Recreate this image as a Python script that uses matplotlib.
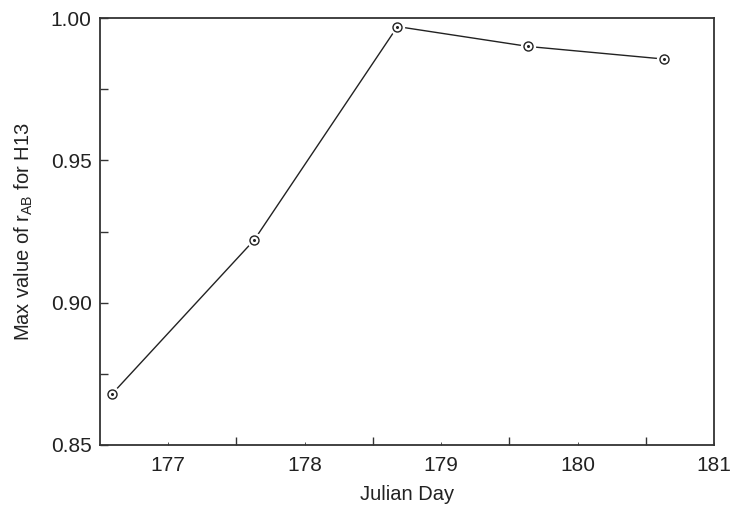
import matplotlib
matplotlib.use("Agg")
import matplotlib.pyplot as plt

days = [176.59, 177.63, 178.68, 179.64, 180.63]
max_r = [0.868, 0.922, 0.997, 0.990, 0.9856]

plt.rcParams["font.family"] = ["Liberation Sans", "DejaVu Sans"]
plt.rcParams["mathtext.default"] = "regular"

fig = plt.figure(figsize=(7.34, 5.12), dpi=100)
ax = fig.add_axes([0.1362, 0.1309, 0.8366, 0.8339])

ax.plot(days, max_r, color="#222222", lw=1.0, zorder=2)
ax.plot(days, max_r, ls="none", marker="o", ms=10, mfc="white", mec="white", zorder=3)
ax.plot(days, max_r, ls="none", marker="o", ms=6.5, mfc="white", mec="#222222", mew=1.0, zorder=4)
ax.plot(days, max_r, ls="none", marker="o", ms=1.2, mfc="#222222", mec="#222222", zorder=5)

ax.set_xlim(176.5, 181)
ax.set_ylim(0.85, 1.00)
ax.set_xticks([177, 178, 179, 180, 181])
ax.set_xticks([177.5, 178.5, 179.5, 180.5], minor=True)
ax.set_yticks([0.85, 0.90, 0.95, 1.00])
ax.set_yticks([0.875, 0.925, 0.975], minor=True)
ax.set_yticklabels(["0.85", "0.90", "0.95", "1.00"])

ax.tick_params(axis="x", which="major", direction="in", length=2, width=0.6, labelsize=15, pad=8, colors="#333333")
ax.tick_params(axis="x", which="minor", direction="in", length=6, width=1.0, colors="#333333")
ax.tick_params(axis="y", which="major", direction="in", length=6, width=1.0, labelsize=15, pad=6, colors="#333333")
ax.tick_params(axis="y", which="minor", direction="in", length=6, width=1.0, colors="#333333")
for lab in ax.get_xticklabels() + ax.get_yticklabels():
    lab.set_color("#222222")

for s in ax.spines.values():
    s.set_color("#333333")
    s.set_linewidth(1.3)

ax.set_xlabel("Julian Day", fontsize=14.5, color="#222222", labelpad=7)
ax.set_ylabel("Max value of r$_{AB}$ for H13", fontsize=14.5, color="#222222", labelpad=11)

fig.savefig("out.png", dpi=100)
